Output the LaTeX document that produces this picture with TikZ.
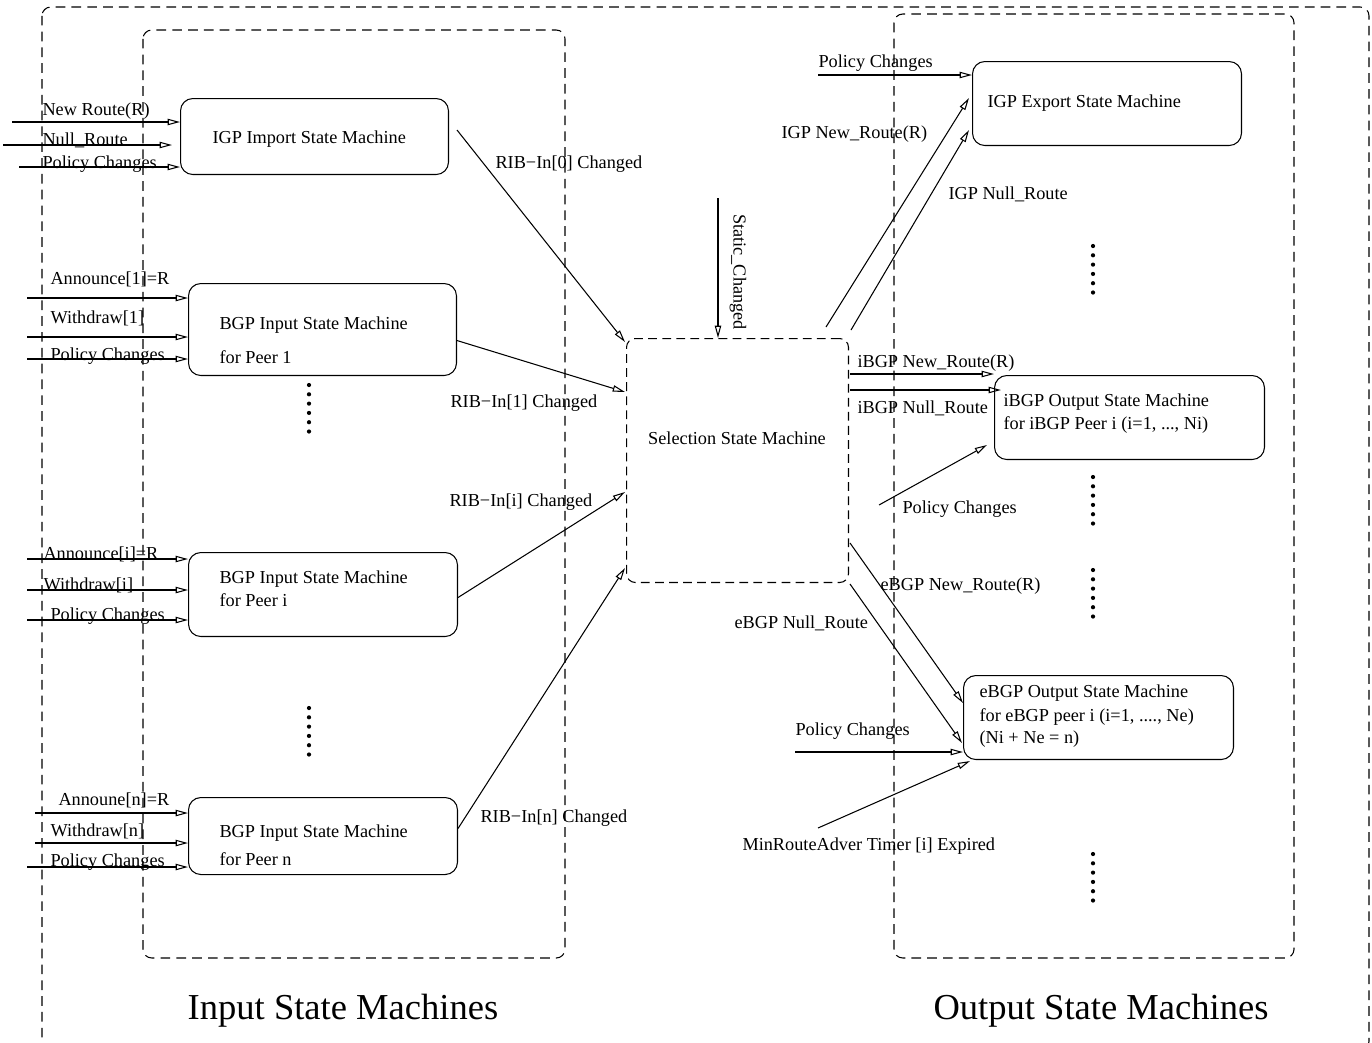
\documentclass[tikz,border=0pt]{standalone}
\usepackage{fontspec}
\setmainfont{Liberation Serif}
\usetikzlibrary{arrows.meta,calc}

\begin{document}
\begin{tikzpicture}[x=0.02cm,y=-0.02cm,line width=0.6pt,
  font=\fontsize{10.4}{12.5}\selectfont,
  sm/.style={draw, rounded corners=7pt, inner sep=0pt, anchor=north west},
  selbox/.style={draw, rounded corners=5pt, inner sep=0pt, anchor=north west, dash pattern=on 5pt off 3pt},
  grp/.style={draw, rounded corners=5pt, dash pattern=on 5.5pt off 3.5pt},
  sig/.style={-{Triangle[open,length=7pt,width=3.6pt]}},
  lbl/.style={anchor=base west, inner sep=0pt},
  big/.style={font=\fontsize{20.8}{25}\selectfont, anchor=base, inner sep=0pt}]

\useasboundingbox (0,0) rectangle (1372,1042);

% grouping frames
\draw[grp] (42,7) rectangle (1369,1050);
\draw[grp] (143,30) rectangle (565,958);
\draw[grp] (894,14) rectangle (1294,958);

% state machines
\node[sm, minimum width=5.36cm, minimum height=1.52cm] (igp) at (180,98) {};
\node[sm, minimum width=5.36cm, minimum height=1.84cm] (bgp1) at (188,283) {};
\node[sm, minimum width=5.38cm, minimum height=1.68cm] (bgpi) at (188,552) {};
\node[sm, minimum width=5.38cm, minimum height=1.54cm] (bgpn) at (188,797) {};
\node[selbox, minimum width=4.44cm, minimum height=4.88cm] (sel) at (626,338) {};
\node[sm, minimum width=5.38cm, minimum height=1.68cm] (igpx) at (972,61) {};
\node[sm, minimum width=5.40cm, minimum height=1.68cm] (ibgp) at (994,375) {};
\node[sm, minimum width=5.40cm, minimum height=1.68cm] (ebgp) at (963,675) {};

% box texts
\node[lbl] (igpT) at (212,143) {IGP Import State Machine};
\node[lbl] (b1a) at (219,329) {BGP Input State Machine};
\node[lbl] (b1b) at (219,363) {for Peer 1};
\node[lbl] (bia) at (219,583) {BGP Input State Machine};
\node[lbl] (bib) at (219,606) {for Peer i};
\node[lbl] (bna) at (219,837) {BGP Input State Machine};
\node[lbl] (bnb) at (219,865) {for Peer n};
\node[anchor=base, inner sep=0pt] (selT) at (737,444) {Selection State Machine};
\node[lbl] (igpxT) at (987,107) {IGP Export State Machine};
\node[lbl] (ibA) at (1003,406) {iBGP Output State Machine};
\node[lbl] (ibB) at (1003,429) {for iBGP Peer i (i=1, ..., Ni)};
\node[lbl] (ebA) at (979,697) {eBGP Output State Machine};
\node[lbl] (ebB) at (979,721) {for eBGP peer i (i=1, ...., Ne)};
\node[lbl] (ebC) at (979,743) {(Ni + Ne = n)};

% input signal labels
\node[lbl] (l1) at (42,115) {New Route(R)};
\node[lbl] (l2) at (42,145) {Null\_Route};
\node[lbl] (l3) at (42,168) {Policy Changes};
\node[lbl] (l4) at (50,284) {Announce[1]=R};
\node[lbl] (l5) at (50,323) {Withdraw[1]};
\node[lbl] (l6) at (50,360) {Policy Changes};
\node[lbl] (l7) at (43,559) {Announce[i]=R};
\node[lbl] (l8) at (43,590) {Withdraw[i]};
\node[lbl] (l9) at (50,620) {Policy Changes};
\node[lbl] (l10) at (58,805) {Announe[n]=R};
\node[lbl] (l11) at (50,836) {Withdraw[n]};
\node[lbl] (l12) at (50,866) {Policy Changes};

% RIB labels
\node[lbl] (r0T) at (495,168) {RIB−In[0] Changed};
\node[lbl] (r1T) at (450,407) {RIB−In[1] Changed};
\node[lbl] (riT) at (449,506) {RIB−In[i] Changed};
\node[lbl] (rnT) at (480,822) {RIB−In[n] Changed};
\node[rotate=-90, inner sep=0pt] (stT) at (738,272) {Static\_Changed};

% output signal labels
\node[lbl] (o1) at (818,67) {Policy Changes};
\node[lbl] (o2) at (781,138) {IGP New\_Route(R)};
\node[lbl] (o3) at (948,199) {IGP Null\_Route};
\node[lbl] (o4) at (857,367) {iBGP New\_Route(R)};
\node[lbl] (o5) at (857,413) {iBGP Null\_Route};
\node[lbl] (o6) at (902,513) {Policy Changes};
\node[lbl] (o7) at (880,590) {eBGP New\_Route(R)};
\node[lbl] (o8) at (734,628) {eBGP Null\_Route};
\node[lbl] (o9) at (795,735) {Policy Changes};
\node[lbl] (o10) at (742,850) {MinRouteAdver Timer [i] Expired};

% section titles
\node[big] (inTitle) at (343,1019) {Input State Machines};
\node[big] (outTitle) at (1101,1019) {Output State Machines};

% inputs of the IGP import machine
\coordinate (a1) at (12,122);
\coordinate (a2) at (3,145);
\coordinate (a3) at (19,167);
\draw[sig] (a1) -- (a1 -| igp.west);
\draw[sig] (a2) -- ($(a2 -| igp.west)+(-8,0)$);
\draw[sig] (a3) -- (a3 -| igp.west);

% inputs of the BGP input machines
\coordinate (b1) at (27,298);
\coordinate (b2) at (27,337);
\coordinate (b3) at (27,359);
\coordinate (b4) at (27,559);
\coordinate (b5) at (27,590);
\coordinate (b6) at (27,620);
\coordinate (b7) at (35,813);
\coordinate (b8) at (35,843);
\coordinate (b9) at (27,867);
\draw[sig] (b1) -- (b1 -| bgp1.west);
\draw[sig] (b2) -- (b2 -| bgp1.west);
\draw[sig] (b3) -- (b3 -| bgp1.west);
\draw[sig] (b4) -- (b4 -| bgpi.west);
\draw[sig] (b5) -- (b5 -| bgpi.west);
\draw[sig] (b6) -- (b6 -| bgpi.west);
\draw[sig] (b7) -- (b7 -| bgpn.west);
\draw[sig] (b8) -- (b8 -| bgpn.west);
\draw[sig] (b9) -- (b9 -| bgpn.west);

% RIB-In changes into the selection machine
\coordinate (r0) at (457,130);
\draw[sig] (r0) -- ($(sel.north west)+(-1,4)$);
\draw[sig] ($(bgp1.east)+(0,11)$) -- ($(sel.north west)+(-1,54)$);
\draw[sig] ($(bgpi.east)+(0,3)$) -- ($(sel.north west)+(-1,154)$);
\draw[sig] ($(bgpn.east)+(0,-7.5)$) -- ($(sel.south west)+(-1,-15)$);
\coordinate (st) at (718,198);
\draw[sig] (st) -- (st |- sel.north);

% IGP export machine
\coordinate (p0) at (818,75);
\draw[sig] (p0) -- (p0 -| igpx.west);
\coordinate (gn) at (826,327);
\coordinate (gu) at (851,330);
\draw[sig] (gn) -- ($(igpx.north west)+(-3,37)$);
\draw[sig] (gu) -- ($(igpx.north west)+(-3,69)$);

% iBGP output machine
\coordinate (in1) at ($(sel.north east)+(1,36)$);
\coordinate (in2) at ($(sel.north east)+(1,52)$);
\draw[sig] (in1) -- (in1 -| ibgp.west);
\draw[sig] (in2) -- ($(in2 -| ibgp.west)+(7,0)$);
\coordinate (ip) at (879,505);
\draw[sig] (ip) -- ($(ibgp.north west)+(-7,70)$);

% eBGP output machine
\draw[sig] ($(sel.north east)+(1,205)$) -- ($(ebgp.north west)+(0,28)$);
\draw[sig] ($(sel.south east)+(1,1)$) -- ($(ebgp.north west)+(-1,68)$);
\coordinate (ep) at (795,752);
\draw[sig] (ep) -- (ep -| ebgp.west);
\coordinate (mr) at (818,828);
\draw[sig] (mr) -- ($(ebgp.south west)+(7,1)$);

% vertical ellipses
\foreach \cx/\cy in {309/385, 309/708, 1093/246, 1093/477, 1093/570, 1093/854}
  \foreach \k in {0,...,5}
    \fill (\cx,\cy+9.3*\k) circle[radius=1.2pt];

\end{tikzpicture}
\end{document}
